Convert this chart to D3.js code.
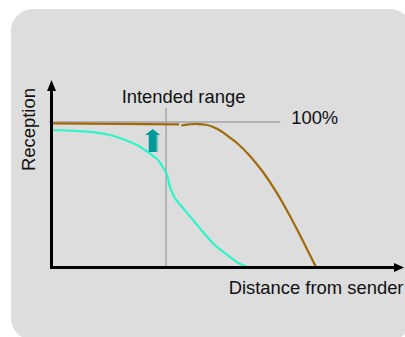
<!DOCTYPE html>
<html><head><meta charset="utf-8">
<script src="https://cdn.jsdelivr.net/npm/d3@7"></script>
<style>html,body{margin:0;padding:0;background:#fff;}svg{display:block;}</style>
</head><body>
<svg id="c" width="405" height="337"></svg>
<script>
// Data (x: distance 0..100, y: reception % 0..100)
const xLabel = "Distance from sender";
const yLabel = "Reception";
const intendedLabel = "Intended range";
const fullLabel = "100%";
const intendedRange = 32.5;
const fullReception = 100;

const cyanX = [0.3, 6.5, 12.3, 16.5, 20.8, 24.2, 26.5, 28.5, 30.2, 31.6, 32.8, 33.6, 35.0, 37.3, 40.2, 43.0, 46.4, 49.9, 52.7, 55.6];
const cyanY = [94.5, 93.9, 92.8, 91.0, 87.6, 84.1, 80.7, 77.2, 73.8, 69.0, 63.4, 55.2, 47.6, 40.7, 32.4, 24.1, 15.2, 8.3, 3.4, 0];

const brownAX = [0.3, 36.2];
const brownAY = [99.0, 98.4];
const brownBX = [36.8, 38.8, 41.6, 43.9, 45.9, 47.9, 50.1, 52.7, 56.4, 60.1, 64.1, 67.8, 71.5, 75.2];
const brownBY = [97.6, 98.4, 98.6, 98.1, 96.6, 94.1, 90.3, 85.5, 76.6, 65.5, 51.0, 35.2, 17.9, 0];

const svg = d3.select("#c");
const x = d3.scaleLinear().domain([0, 100]).range([52, 403]);
const y = d3.scaleLinear().domain([0, 100]).range([267, 122]);
const font = "'Liberation Sans', Arial, sans-serif";
const fs = 18.4;

// background panel
svg.append("rect").attr("x", 11).attr("y", 9).attr("width", 401).attr("height", 331)
  .attr("rx", 22).attr("fill", "#dddddd");

// reference lines
svg.append("line").attr("x1", x(-0.9)).attr("x2", x(65)).attr("y1", y(fullReception)).attr("y2", y(fullReception))
  .attr("stroke", "#a3a3a3").attr("stroke-width", 1.4);
svg.append("line").attr("x1", x(intendedRange)).attr("x2", x(intendedRange)).attr("y1", y(109.7)).attr("y2", y(0))
  .attr("stroke", "#a3a3a3").attr("stroke-width", 1.4);

// curves
const line = d3.line().x(d => x(d[0])).y(d => y(d[1])).curve(d3.curveCatmullRom.alpha(0.5));
const toPts = (xs, ys) => xs.map((v, i) => [v, ys[i]]);
svg.append("path").attr("d", line(toPts(brownAX, brownAY))).attr("fill", "none").attr("stroke", "#a06a0c").attr("stroke-width", 2.2);
svg.append("path").attr("d", line(toPts(brownBX, brownBY))).attr("fill", "none").attr("stroke", "#a06a0c").attr("stroke-width", 2.2);
svg.append("path").attr("d", line(toPts(cyanX, cyanY))).attr("fill", "none").attr("stroke", "#2ef5c8").attr("stroke-width", 2.2);

// axes
const ax0 = 51.5, ay0 = 267.5;
svg.append("line").attr("x1", ax0).attr("x2", ax0).attr("y1", ay0 + 1.5).attr("y2", 88).attr("stroke", "#000").attr("stroke-width", 3);
svg.append("path").attr("d", `M${ax0 - 4.5},91 L${ax0},80 L${ax0 + 4.5},91 Z`).attr("fill", "#000");
svg.append("line").attr("x1", ax0 - 1.5).attr("x2", 396).attr("y1", ay0).attr("y2", ay0).attr("stroke", "#000").attr("stroke-width", 3);
svg.append("path").attr("d", `M394,${ay0 - 4.5} L404,${ay0} L394,${ay0 + 4.5} Z`).attr("fill", "#000");

// teal arrow
const ax = x(28.7);
svg.append("path").attr("d", `M${ax - 4},152 L${ax - 4},135 L${ax - 7.5},135 L${ax},129 L${ax + 7.5},135 L${ax + 4},135 L${ax + 4},152 Z`)
  .attr("fill", "#009a9a");
svg.append("path").attr("d", `M${ax + 4},152 L${ax + 4},135 L${ax + 7.5},135 L${ax + 5.5},135 L${ax + 5.5},152 Z`)
  .attr("fill", "#5fb8b8").attr("opacity", 0.6);

// texts
const tcol = "#111";
svg.append("text").attr("x", 183.5).attr("y", 102.7).attr("text-anchor", "middle")
  .attr("font-family", font).attr("font-size", fs).attr("fill", tcol).text(intendedLabel);
svg.append("text").attr("x", 291.2).attr("y", 123.5)
  .attr("font-family", font).attr("font-size", fs).attr("fill", tcol).text(fullLabel);
svg.append("text").attr("x", 403.5).attr("y", 293.5).attr("text-anchor", "end")
  .attr("font-family", font).attr("font-size", fs).attr("fill", tcol).text(xLabel);
svg.append("text").attr("transform", "translate(34.8,129.5) rotate(-90)").attr("text-anchor", "middle")
  .attr("font-family", font).attr("font-size", fs).attr("fill", tcol).text(yLabel);
</script>
</body></html>
